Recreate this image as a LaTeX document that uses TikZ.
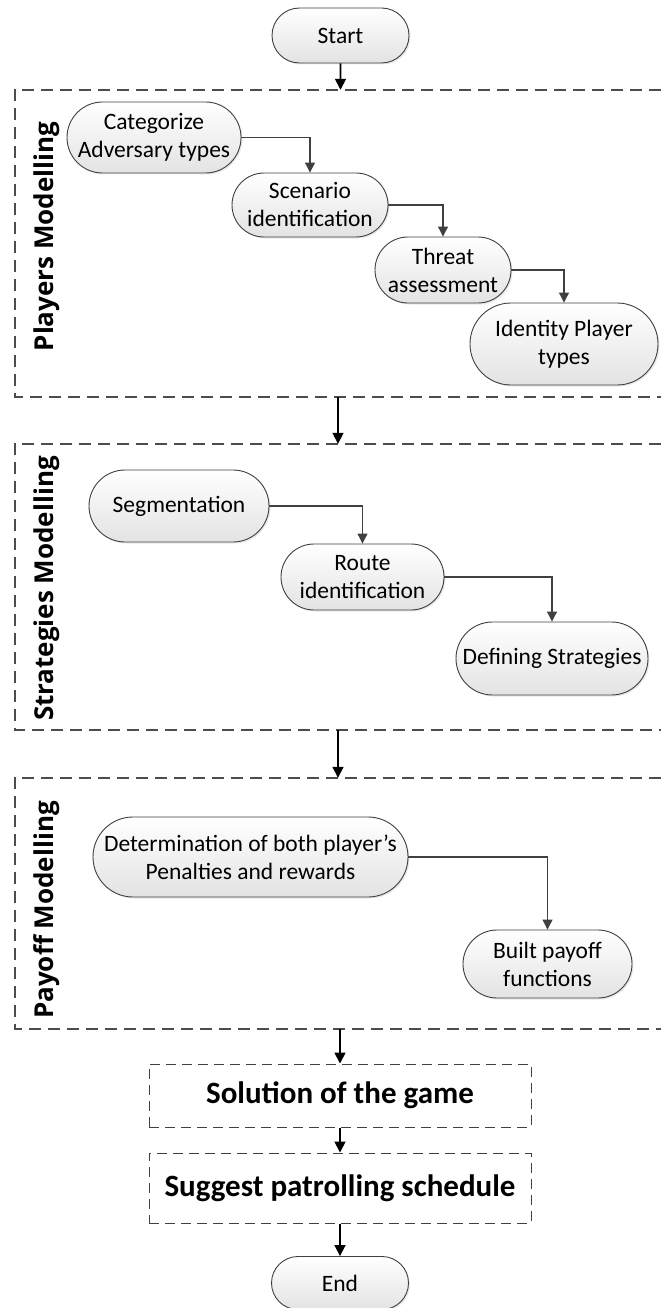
\documentclass[tikz,border=0pt]{standalone}
\usepackage{fontspec}
\setmainfont{Carlito}
\newfontfamily\sidefont{Open Sans}
\usetikzlibrary{arrows.meta,shadows,shapes.misc,positioning}

\begin{document}
\begin{tikzpicture}[x=1pt,y=-1pt,
  stepbox/.style={rounded rectangle,draw=dgray,line width=0.9pt,top color=white,bottom color=lgray,
    drop shadow={opacity=0.18,shadow xshift=1.5pt,shadow yshift=-1.5pt},
    align=center,inner sep=0pt,font=\fontsize{23.5}{28}\selectfont},
  dashbox/.style={draw=dgray,line width=1pt,dash pattern=on 10pt off 6pt,fill=white,
    minimum width=382pt,inner sep=0pt,font=\bfseries\fontsize{31}{36}\selectfont},
  frame/.style={draw=none,minimum width=646pt,inner sep=0pt},
  frameline/.style={draw=fgray,line width=1.5pt,dash pattern=on 12pt off 7pt},
  sidelabel/.style={rotate=90,inner sep=0pt,font=\sidefont\bfseries\fontsize{26}{30}\selectfont},
  flow/.style={black,line width=1.7pt,-{Triangle[length=11pt,width=11pt]}},
  link/.style={dgray,line width=1.1pt,-{Triangle[length=10pt,width=10pt]}}]
\definecolor{dgray}{rgb}{0.25,0.25,0.25}
\definecolor{fgray}{rgb}{0.3,0.3,0.3}
\definecolor{lgray}{rgb}{0.89,0.89,0.89}
\useasboundingbox (0,0) rectangle (661,1308);
% frames
\node[frame,minimum height=307pt] (f1) at (338,243.5) {};
\node[frame,minimum height=286pt] (f2) at (338,587) {};
\node[frame,minimum height=251pt] (f3) at (338,903.5) {};
\draw[frameline] (f1.north east) -- (f1.north west) -- (f1.south west) -- (f1.south east);
\draw[frameline] (f2.north east) -- (f2.north west) -- (f2.south west) -- (f2.south east);
\draw[frameline] (f3.north east) -- (f3.north west) -- (f3.south west) -- (f3.south east);
\node[sidelabel] (lplayers) at (47,236.5) {Players Modelling};
\node[sidelabel] (lstrat) at (47,588.5) {Strategies Modelling};
\node[sidelabel] (lpayoff) at (47,910) {Payoff Modelling};
% steps
\node[stepbox,minimum width=137pt,minimum height=55pt] (start) at (340.5,35.5) {Start};
\node[stepbox,minimum width=174pt,minimum height=71pt] (categ) at (154,137.5) {Categorize\\Adversary types};
\node[stepbox,minimum width=156pt,minimum height=64pt] (scen) at (310,205) {Scenario\\identification};
\node[stepbox,minimum width=136pt,minimum height=66pt] (threat) at (443,270) {Threat\\assessment};
\node[stepbox,minimum width=188pt,minimum height=82pt] (ident) at (564,344) {Identity Player\\types};
\node[stepbox,minimum width=180pt,minimum height=72pt] (segm) at (179,506) {Segmentation};
\node[stepbox,minimum width=163pt,minimum height=66pt] (route) at (362.5,577) {Route\\identification};
\node[stepbox,minimum width=192pt,minimum height=73pt] (defstr) at (552,658.5) {Defining Strategies};
\node[stepbox,minimum width=315pt,minimum height=80pt] (determ) at (250.5,857) {Determination of both player’s\\Penalties and rewards};
\node[stepbox,minimum width=169pt,minimum height=68pt] (payoff) at (547.5,964) {Built payoff\\functions};
\node[dashbox,minimum height=63pt] (sol) at (340,1095.5) {Solution of the game};
\node[dashbox,minimum height=70pt] (sugg) at (340,1188) {Suggest patrolling schedule};
\node[stepbox,minimum width=137pt,minimum height=53pt] (stop) at (340,1283) {End};
% connectors
\draw[flow] (start) -- (start |- f1.north);
\draw[link] (categ.east) -| (scen.north);
\draw[link] (scen.east) -| (threat.north);
\draw[link] (threat.east) -| (ident.north);
\draw[flow] (f1.south) -- (f2.north);
\draw[link] (segm.east) -| (route.north);
\draw[link] (route.east) -| (defstr.north);
\draw[flow] (f2.south) -- (f3.north);
\draw[link] (determ.east) -| (payoff.north);
\draw[flow] (f3.south -| sol.north) -- (sol);
\draw[flow] (sol) -- (sugg);
\draw[flow] (sugg) -- (stop);
\end{tikzpicture}
\end{document}
